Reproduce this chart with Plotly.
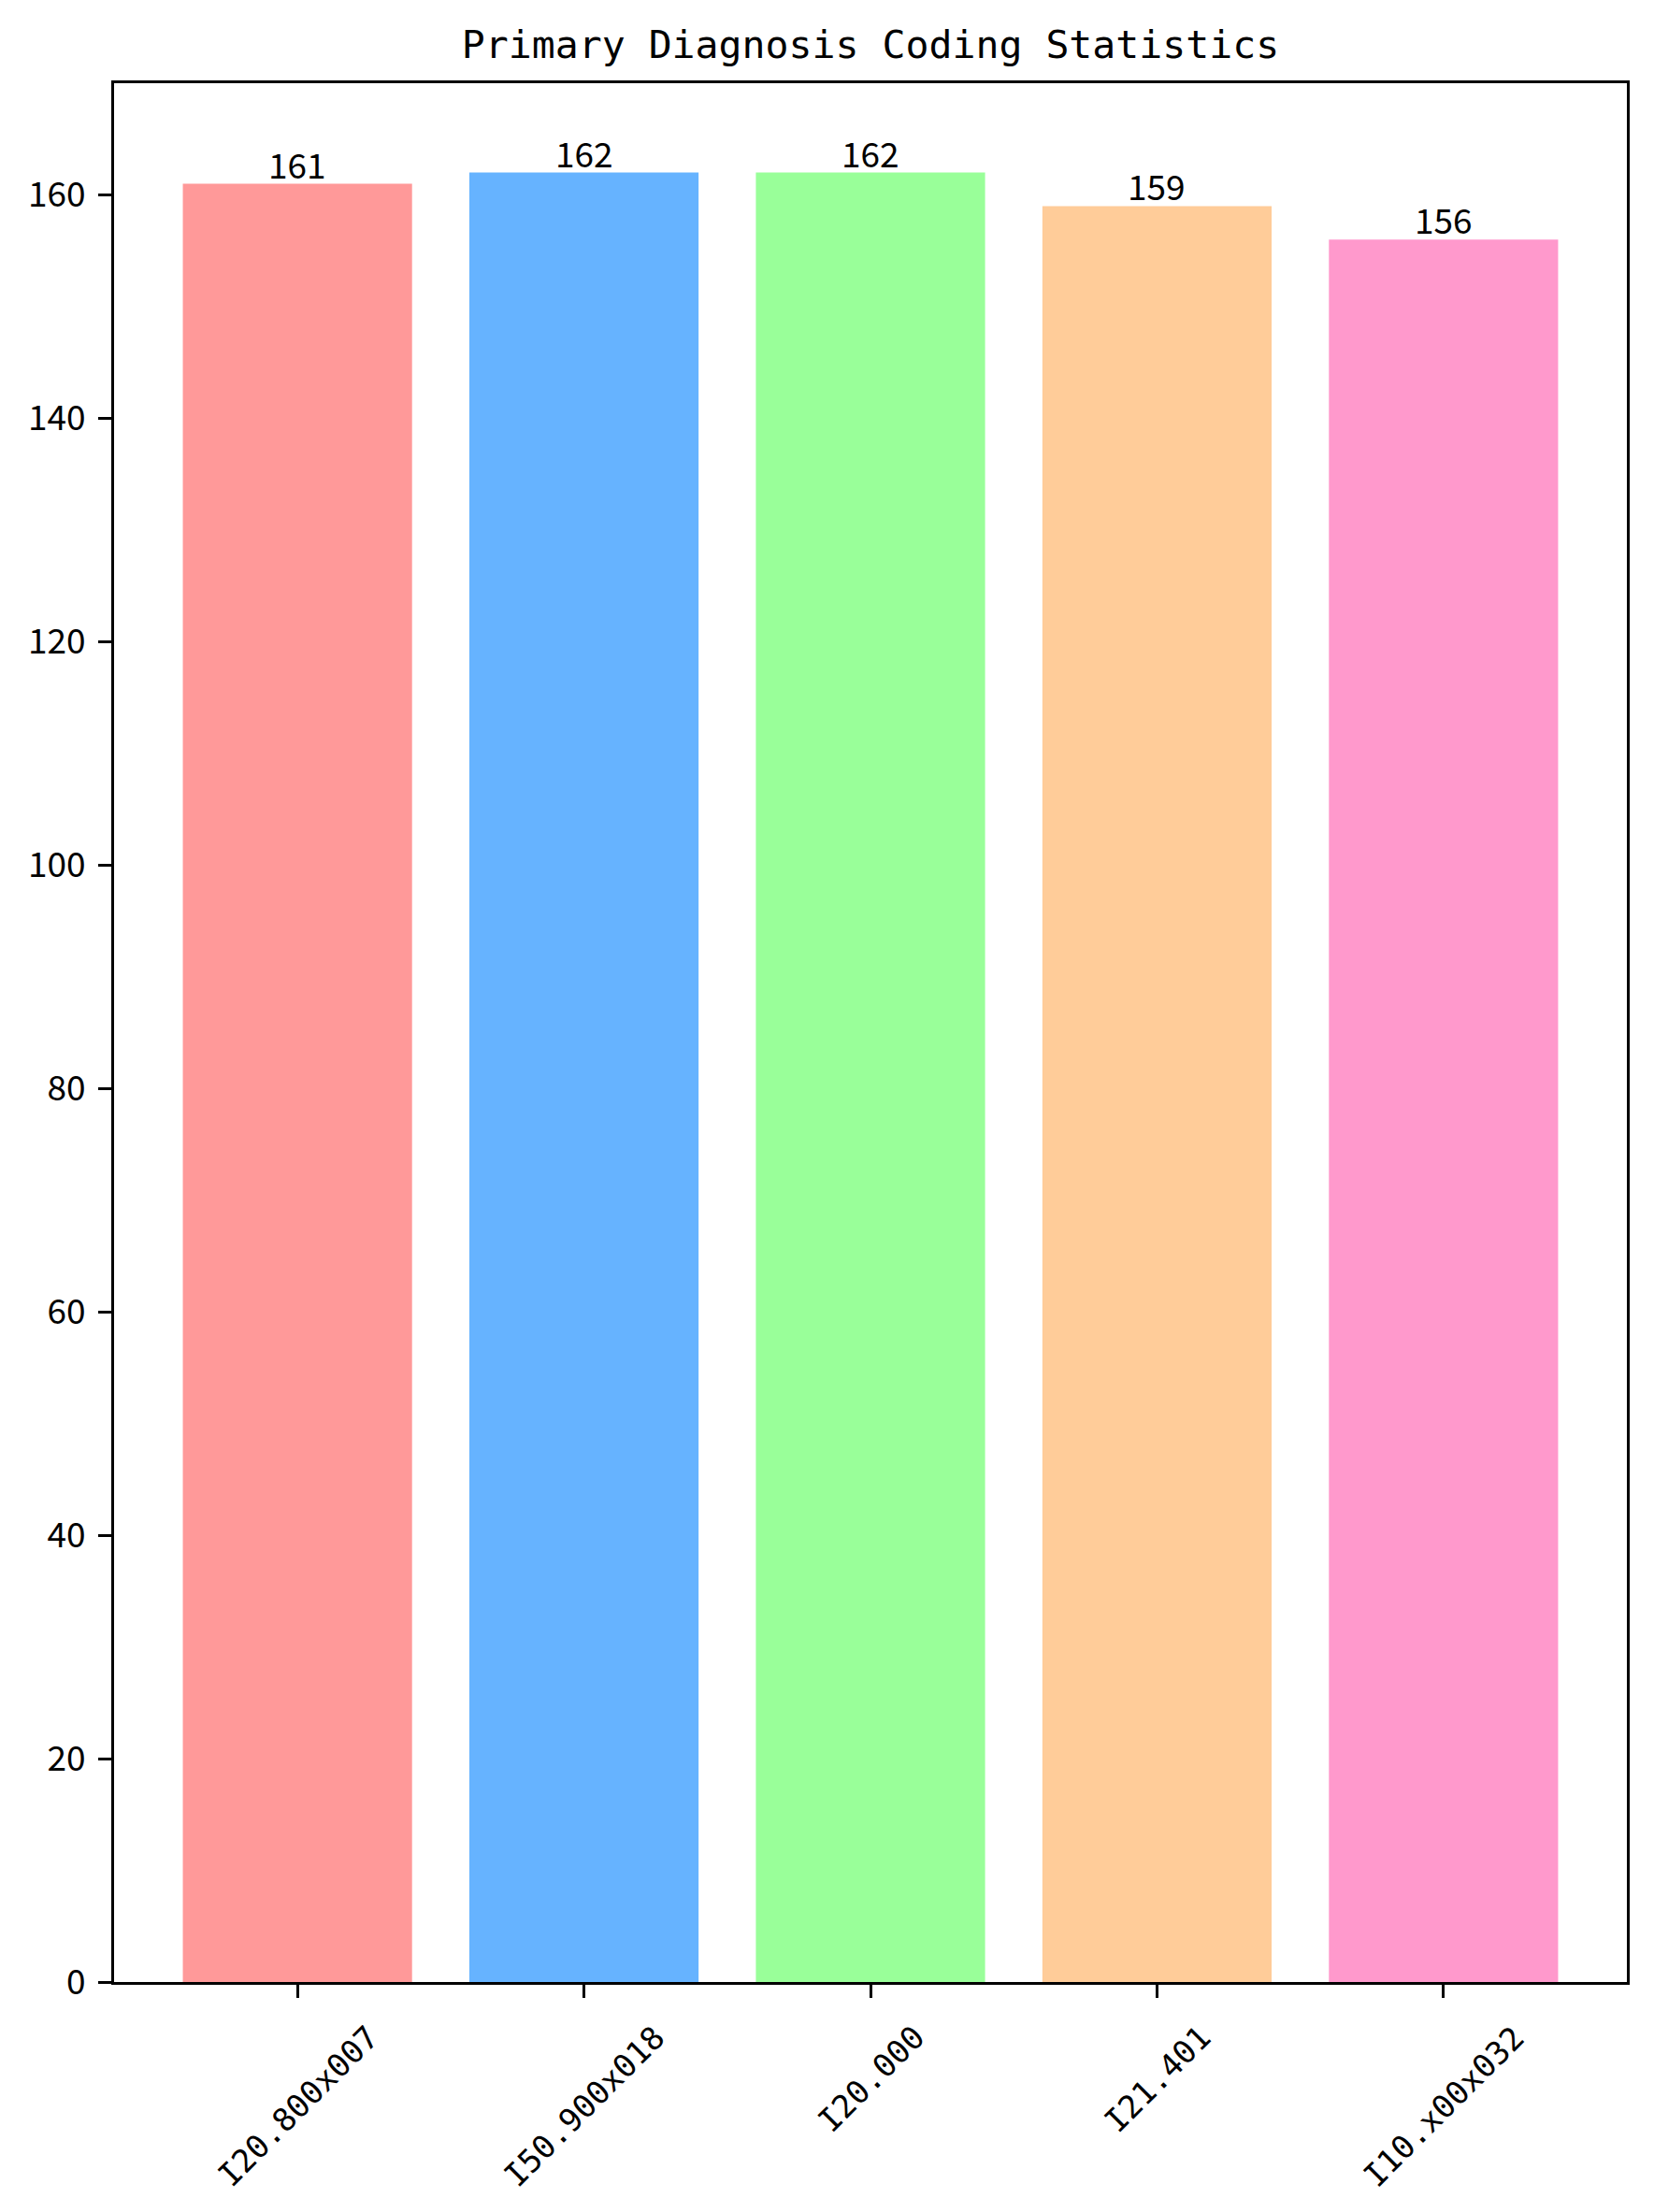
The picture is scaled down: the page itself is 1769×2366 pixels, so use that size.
import plotly.graph_objects as go

categories = ["I20.800x007", "I50.900x018", "I20.000", "I21.401", "I10.x00x032"]
counts = [161, 162, 162, 159, 156]
colors = ["#ff9999", "#66b3ff", "#99ff99", "#ffcc99", "#ff99cc"]
y_ticks = [0, 20, 40, 60, 80, 100, 120, 140, 160]
title_text = "Primary Diagnosis Coding Statistics"

W, H = 1769, 2366
MONO = "DejaVu Sans Mono"
NUM = "Noto Sans CJK SC"

fig = go.Figure()
fig.add_trace(go.Bar(
    x=categories, y=counts, width=0.8,
    marker=dict(color=colors, line=dict(width=0)),
    cliponaxis=False, showlegend=False,
))

for c, v in zip(categories, counts):
    fig.add_annotation(
        x=c, y=v, xref="x", yref="y", text=str(v),
        showarrow=False, xanchor="center", yanchor="bottom", yshift=-7,
        font=dict(family=NUM, size=37, color="black"),
    )

for c in categories:
    fig.add_annotation(
        x=c, y=0, xref="x", yref="y", text=c, textangle=-45,
        showarrow=False, xanchor="center", yanchor="top", yshift=-36,
        font=dict(family=MONO, size=34, color="black"),
    )

fig.update_layout(
    width=W, height=H,
    margin=dict(l=122, r=29, t=89, b=246, pad=0),
    paper_bgcolor="white", plot_bgcolor="white",
    title=dict(text=title_text, x=0.5, xref="paper", xanchor="center",
               y=1 - 47 / H, yref="container", yanchor="middle",
               font=dict(family=MONO, size=41.5, color="black")),
    font=dict(family=MONO, size=33, color="black"),
    bargap=0.2,
)
fig.update_xaxes(
    type="category", range=[-0.64, len(categories) - 1 + 0.64],
    showline=True, linecolor="black", linewidth=3, mirror=True,
    ticks="outside", ticklen=14, tickwidth=3, tickcolor="black",
    showticklabels=False, showgrid=False, zeroline=False,
)
fig.update_yaxes(
    range=[0, 170], tickmode="array", tickvals=y_ticks,
    ticktext=[str(t) for t in y_ticks],
    showline=True, linecolor="black", linewidth=3, mirror=True,
    ticks="outside", ticklen=14, tickwidth=3, tickcolor="black",
    ticklabelstandoff=6,
    tickfont=dict(family=NUM, size=37, color="black"),
    showgrid=False, zeroline=False,
)

fig.write_html("out.html")
